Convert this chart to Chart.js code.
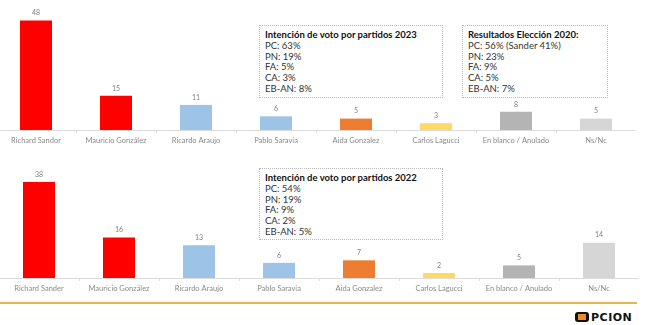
<!DOCTYPE html>
<html>
<head>
<meta charset="utf-8">
<script src="https://cdn.jsdelivr.net/npm/chart.js@4"></script>
<style>
  body { margin: 0; background: #fff; width: 645px; height: 325px; position: relative; overflow: hidden; font-family: Lato, sans-serif; }
  .wrap { position: absolute; }
  .box { position: absolute; border: 1px dotted #b8b8b8; background: #fff; padding: 4px 0 0 5px; box-sizing: border-box; font-size: 9.5px; line-height: 10.8px; color: #333; }
  .box b { color: #111; }
  .rule { position: absolute; left: 0; top: 302px; width: 637px; height: 2px; background: #e6b450; }
  .logo { position: absolute; left: 575px; top: 312px; font: bold 11px "DejaVu Sans", sans-serif; letter-spacing: 0.5px; color: #111; line-height: 11px; }
  .logo .o { display: inline-block; width: 14px; height: 10px; background: #111; border-radius: 3px; color: transparent; position: relative; vertical-align: -1px; margin-right: 2px; overflow: hidden; }
  .logo .o::after { content: ""; position: absolute; left: 3px; top: 2px; width: 8px; height: 6px; background: #f08a24; }
</style>
</head>
<body>
<div class="wrap" style="left:-4px; top:0; width:640px; height:150px;"><canvas id="top"></canvas></div>
<div class="wrap" style="left:-1px; top:160px; width:640px; height:138px;"><canvas id="bottom"></canvas></div>

<div class="box" style="left:259px; top:25px; width:184px; height:73px;">
  <b>Intención de voto por partidos 2023</b><br>PC: 63%<br>PN: 19%<br>FA: 5%<br>CA: 3%<br>EB-AN: 8%
</div>
<div class="box" style="left:462px; top:25px; width:146px; height:73px;">
  <b>Resultados Elección 2020:</b><br>PC: 56% (Sander 41%)<br>PN: 23%<br>FA: 9%<br>CA: 5%<br>EB-AN: 7%
</div>
<div class="box" style="left:259px; top:168px; width:184px; height:72px;">
  <b>Intención de voto por partidos 2022</b><br>PC: 54%<br>PN: 19%<br>FA: 9%<br>CA: 2%<br>EB-AN: 5%
</div>

<div class="rule"></div>
<div class="logo"><span class="o">O</span>PCION</div>

<script>
const candidates = ['Richard Sandor', 'Mauricio González', 'Ricardo Araujo', 'Pablo Saravia', 'Aida Gonzalez', 'Carlos Lagucci', 'En blanco / Anulado', 'Ns/Nc'];
const candidates2022 = ['Richard Sander', 'Mauricio González', 'Ricardo Araujo', 'Pablo Saravia', 'Aida Gonzalez', 'Carlos Lagucci', 'En blanco / Anulado', 'Ns/Nc'];
const votes2023 = [48, 15, 11, 6, 5, 3, 8, 5];
const votes2022 = [38, 16, 13, 6, 7, 2, 5, 14];
const barColors = ['#ff0000', '#ff0000', '#9dc3e6', '#9dc3e6', '#ed7d31', '#ffd966', '#b4b4b4', '#d6d6d6'];

// numbers above each bar
const valueLabels = {
  id: 'valueLabels',
  afterDatasetsDraw(chart) {
    const ctx = chart.ctx;
    ctx.save();
    ctx.font = '7px Lato';
    ctx.fillStyle = '#808080';
    ctx.textAlign = 'center';
    ctx.textBaseline = 'bottom';
    chart.getDatasetMeta(0).data.forEach((bar, i) => {
      ctx.fillText(chart.data.datasets[0].data[i], bar.x, bar.y - 4);
    });
    ctx.restore();
  }
};

function makeChart(id, labels, values, ymax, padTop) {
  return new Chart(document.getElementById(id), {
    type: 'bar',
    data: {
      labels: labels,
      datasets: [{
        data: values,
        backgroundColor: barColors,
        categoryPercentage: 1,
        barPercentage: 0.4
      }]
    },
    options: {
      responsive: true,
      maintainAspectRatio: false,
      animation: false,
      layout: { padding: { top: padTop, left: 0, right: 0, bottom: 0 } },
      plugins: { legend: { display: false }, tooltip: { enabled: false } },
      scales: {
        x: {
          afterFit: s => { s.height = 20; },
          grid: { drawOnChartArea: false, tickLength: 3, color: '#dcdcdc' },
          border: { color: '#dcdcdc' },
          ticks: { font: { size: 7.5, family: 'Lato' }, color: '#8a8a8a', padding: 3, maxRotation: 0, autoSkip: false }
        },
        y: { display: false, min: 0, max: ymax }
      }
    },
    plugins: [valueLabels]
  });
}

makeChart('top', candidates, votes2023, 50, 16);
makeChart('bottom', candidates2022, votes2022, 40, 17);
</script>
</body>
</html>
